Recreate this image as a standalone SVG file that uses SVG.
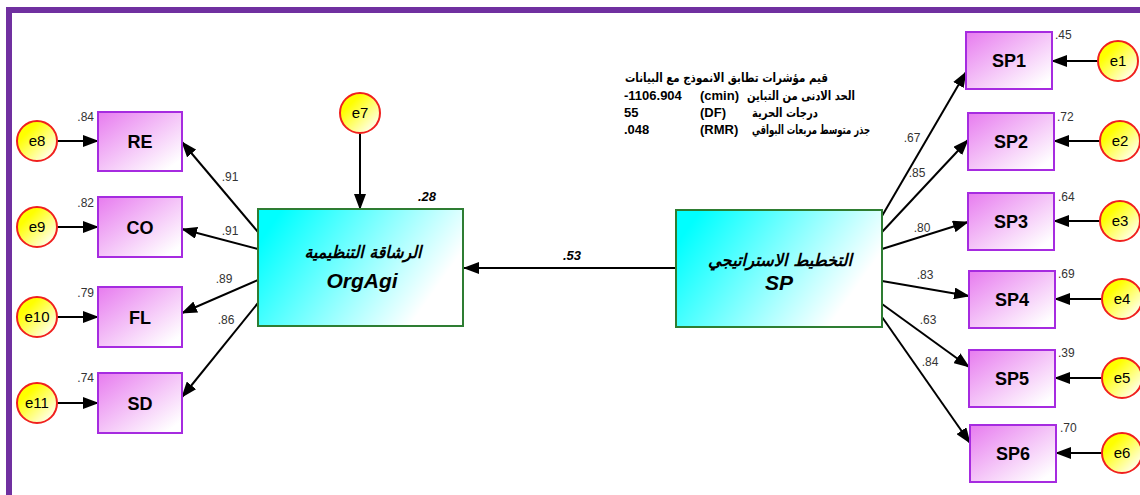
<svg xmlns="http://www.w3.org/2000/svg" width="1140" height="495" viewBox="0 0 1140 495">
<defs>
<linearGradient id="gInd" x1="0" y1="0" x2="1" y2="1">
<stop offset="0" stop-color="#E77BEF"/>
<stop offset="0.9" stop-color="#FFFFFF"/>
</linearGradient>
<linearGradient id="gLat" x1="0" y1="0.3" x2="1" y2="0.7">
<stop offset="0" stop-color="#00FFFF"/>
<stop offset="0.88" stop-color="#FFFFFF"/>
</linearGradient>
<linearGradient id="gErr" x1="0.1" y1="0.1" x2="0.95" y2="0.95">
<stop offset="0.2" stop-color="#FFFF00"/>
<stop offset="0.95" stop-color="#FFFFFF"/>
</linearGradient>
<marker id="arr" markerUnits="userSpaceOnUse" markerWidth="16" markerHeight="12" refX="15" refY="6" orient="auto">
<path d="M0,0 L16,6 L0,12 Z" fill="#000"/>
</marker>
<style>
.ind{fill:url(#gInd);stroke:#A62BE0;stroke-width:2}
.lat{fill:url(#gLat);stroke:#2E7D32;stroke-width:2}
.err{fill:url(#gErr);stroke:#F0201E;stroke-width:2}
.lbl{font-family:"Liberation Sans",Arial,sans-serif;font-weight:bold;font-size:18px;fill:#000;text-anchor:middle}
.elbl{font-family:"Liberation Sans",Arial,sans-serif;font-size:15px;fill:#000;text-anchor:middle}
.num{font-family:"Liberation Sans",Arial,sans-serif;font-size:12px;fill:#333}
.bnum{font-family:"Liberation Sans",Arial,sans-serif;font-size:13px;font-weight:bold;font-style:italic;fill:#000}
.lat1{font-family:"DejaVu Sans","Liberation Sans",sans-serif;font-weight:bold;font-style:italic;font-size:17px;fill:#000;text-anchor:middle}
.lat2{font-family:"Liberation Sans",Arial,sans-serif;font-weight:bold;font-style:italic;font-size:21px;fill:#000;text-anchor:middle}
.fit{font-family:"Liberation Sans","DejaVu Sans",sans-serif;font-weight:bold;font-size:13px;fill:#000}
.fa{font-family:"DejaVu Sans","Liberation Sans",sans-serif;font-weight:bold;font-size:12.5px;fill:#000}
.ln{stroke:#000;stroke-width:2;fill:none;marker-end:url(#arr)}
</style>
</defs>
<rect x="0" y="0" width="1140" height="495" fill="#FFFFFF"/>
<path d="M9,495 L9,10 L1140,10" fill="none" stroke="#7030A0" stroke-width="6"/>

<g id="connectors">
<line class="ln" x1="360" y1="133" x2="360" y2="209"/>
<line class="ln" x1="676" y1="268" x2="464" y2="268"/>
<line class="ln" x1="258" y1="232" x2="182" y2="142"/>
<line class="ln" x1="258" y1="249" x2="182" y2="229"/>
<line class="ln" x1="258" y1="280" x2="182" y2="313"/>
<line class="ln" x1="258" y1="303" x2="182" y2="397"/>
<line class="ln" x1="57" y1="141" x2="98" y2="141"/>
<line class="ln" x1="57" y1="227" x2="98" y2="227"/>
<line class="ln" x1="57" y1="317" x2="98" y2="317"/>
<line class="ln" x1="57" y1="403" x2="98" y2="403"/>
<line class="ln" x1="882" y1="216" x2="966" y2="72"/>
<line class="ln" x1="882" y1="232" x2="968" y2="140"/>
<line class="ln" x1="882" y1="249" x2="968" y2="222"/>
<line class="ln" x1="882" y1="281" x2="969" y2="296"/>
<line class="ln" x1="882" y1="304" x2="969" y2="367"/>
<line class="ln" x1="882" y1="317" x2="970" y2="443"/>
<line class="ln" x1="1098" y1="61" x2="1052" y2="61"/>
<line class="ln" x1="1100" y1="141" x2="1054" y2="141"/>
<line class="ln" x1="1100" y1="221" x2="1054" y2="221"/>
<line class="ln" x1="1102" y1="299" x2="1055" y2="299"/>
<line class="ln" x1="1102" y1="378" x2="1055" y2="378"/>
<line class="ln" x1="1102" y1="453" x2="1056" y2="453"/>
<text class="num" x="230" y="181" text-anchor="middle">.91</text>
<text class="num" x="230" y="235" text-anchor="middle">.91</text>
<text class="num" x="224" y="283" text-anchor="middle">.89</text>
<text class="num" x="226" y="324" text-anchor="middle">.86</text>
<text class="bnum" x="572" y="260" text-anchor="middle">.53</text>
<text class="num" x="912" y="142" text-anchor="middle">.67</text>
<text class="num" x="917" y="177" text-anchor="middle">.85</text>
<text class="num" x="922" y="232" text-anchor="middle">.80</text>
<text class="num" x="925" y="279" text-anchor="middle">.83</text>
<text class="num" x="928" y="324" text-anchor="middle">.63</text>
<text class="num" x="930" y="366" text-anchor="middle">.84</text>
</g>

<g id="fit">
<text class="fa" x="625" y="82" textLength="203" lengthAdjust="spacingAndGlyphs">قيم مؤشرات تطابق الانموذج مع البيانات</text>
<text class="fit" x="624" y="100">-1106.904</text>
<text class="fit" x="700" y="100">(cmin)</text>
<text class="fa" x="747" y="100" textLength="108" lengthAdjust="spacingAndGlyphs">الحد الادنى من التباين</text>
<text class="fit" x="624" y="117">55</text>
<text class="fit" x="700" y="117">(DF)</text>
<text class="fa" x="752" y="117" textLength="66" lengthAdjust="spacingAndGlyphs">درجات الحرية</text>
<text class="fit" x="624" y="134">.048</text>
<text class="fit" x="700" y="134">(RMR)</text>
<text class="fa" x="752" y="134" textLength="118" lengthAdjust="spacingAndGlyphs">جذر متوسط مربعات البواقي</text>
</g>

<g id="OrgAgi">
<rect class="lat" x="258" y="209" width="205" height="117"/>
<text class="lat1" x="363" y="258" textLength="117" lengthAdjust="spacingAndGlyphs">الرشاقة التنظيمية</text>
<text class="lat2" x="362" y="288">OrgAgi</text>
<text class="bnum" x="427" y="201" text-anchor="middle">.28</text>
</g>
<g id="SP">
<rect class="lat" x="676" y="210" width="206" height="117"/>
<text class="lat1" x="780" y="266" textLength="144" lengthAdjust="spacingAndGlyphs">التخطيط الاستراتيجي</text>
<text class="lat2" x="779" y="290">SP</text>
</g>
<g id="e7"><circle class="err" cx="360" cy="113" r="20"/><text class="elbl" x="360" y="118">e7</text></g>

<g id="RE"><rect class="ind" x="98" y="112" width="84" height="59"/><text class="lbl" x="140" y="148">RE</text><text class="num" x="94" y="121" text-anchor="end">.84</text></g>
<g id="CO"><rect class="ind" x="98" y="197" width="84" height="60"/><text class="lbl" x="140" y="234">CO</text><text class="num" x="94" y="207" text-anchor="end">.82</text></g>
<g id="FL"><rect class="ind" x="98" y="287" width="84" height="60"/><text class="lbl" x="140" y="324">FL</text><text class="num" x="94" y="297" text-anchor="end">.79</text></g>
<g id="SD"><rect class="ind" x="98" y="373" width="84" height="60"/><text class="lbl" x="140" y="410">SD</text><text class="num" x="94" y="382" text-anchor="end">.74</text></g>

<g id="e8"><circle class="err" cx="37" cy="141" r="20"/><text class="elbl" x="37" y="146">e8</text></g>
<g id="e9"><circle class="err" cx="37" cy="227" r="20"/><text class="elbl" x="37" y="232">e9</text></g>
<g id="e10"><circle class="err" cx="37" cy="317" r="20"/><text class="elbl" x="37" y="322">e10</text></g>
<g id="e11"><circle class="err" cx="37" cy="403" r="20"/><text class="elbl" x="37" y="408">e11</text></g>

<g id="SP1"><rect class="ind" x="966" y="32" width="86" height="57"/><text class="lbl" x="1009" y="67">SP1</text><text class="num" x="1055" y="39">.45</text></g>
<g id="SP2"><rect class="ind" x="968" y="113" width="86" height="57"/><text class="lbl" x="1011" y="148">SP2</text><text class="num" x="1057" y="121">.72</text></g>
<g id="SP3"><rect class="ind" x="968" y="193" width="86" height="57"/><text class="lbl" x="1011" y="228">SP3</text><text class="num" x="1058" y="201">.64</text></g>
<g id="SP4"><rect class="ind" x="969" y="271" width="86" height="57"/><text class="lbl" x="1012" y="306">SP4</text><text class="num" x="1058" y="278">.69</text></g>
<g id="SP5"><rect class="ind" x="969" y="350" width="86" height="57"/><text class="lbl" x="1012" y="385">SP5</text><text class="num" x="1058" y="357">.39</text></g>
<g id="SP6"><rect class="ind" x="970" y="425" width="86" height="57"/><text class="lbl" x="1013" y="460">SP6</text><text class="num" x="1060" y="432">.70</text></g>

<g id="e1"><circle class="err" cx="1118" cy="61" r="20"/><text class="elbl" x="1118" y="66">e1</text></g>
<g id="e2"><circle class="err" cx="1120" cy="141" r="20"/><text class="elbl" x="1120" y="146">e2</text></g>
<g id="e3"><circle class="err" cx="1120" cy="221" r="20"/><text class="elbl" x="1120" y="226">e3</text></g>
<g id="e4"><circle class="err" cx="1122" cy="299" r="20"/><text class="elbl" x="1122" y="304">e4</text></g>
<g id="e5"><circle class="err" cx="1122" cy="378" r="20"/><text class="elbl" x="1122" y="383">e5</text></g>
<g id="e6"><circle class="err" cx="1122" cy="453" r="20"/><text class="elbl" x="1122" y="458">e6</text></g>
</svg>
